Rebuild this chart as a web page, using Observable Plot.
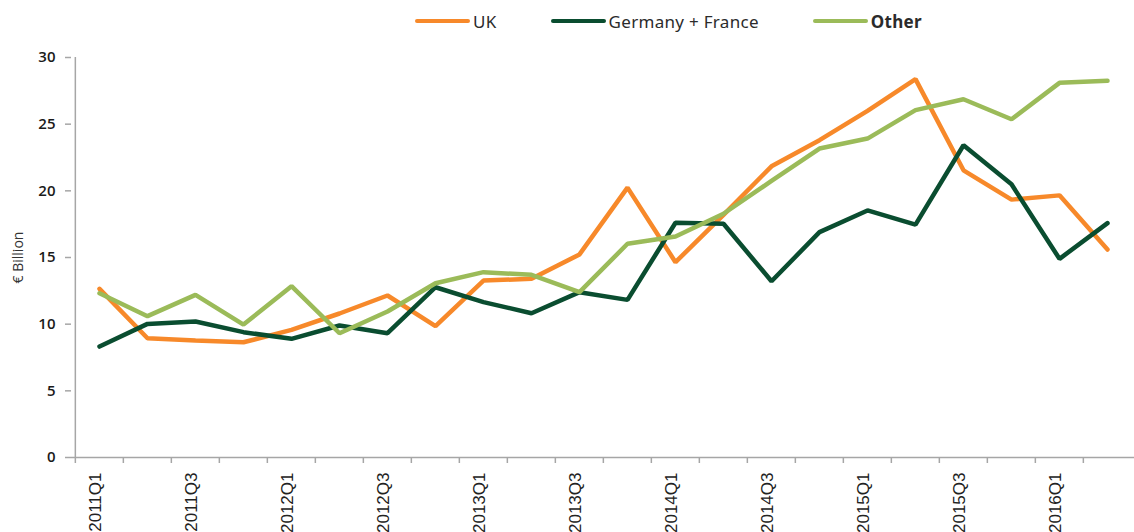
<!DOCTYPE html>
<html>
<head>
<meta charset="utf-8">
<script src="https://cdn.jsdelivr.net/npm/d3@7"></script>
<script src="https://cdn.jsdelivr.net/npm/@observablehq/plot@0.6"></script>
<style>
  html, body { margin: 0; padding: 0; background: #fff; }
  #wrap { position: relative; width: 1134px; height: 532px; overflow: hidden; }
  #legend { position: absolute; left: 415px; top: 8px; height: 26px; display: flex; align-items: center;
            font-family: "Noto Sans", "DejaVu Sans", sans-serif; font-size: 17px; color: #2b2b2b; letter-spacing: 0.3px; }
  .item { display: flex; align-items: center; margin-right: 54px; }
  .sw { width: 55px; height: 4.5px; border-radius: 3px; margin-right: 3px; }
  #chart { position: absolute; left: 0; top: 38px; }
</style>
</head>
<body>
<div id="wrap">
  <div id="legend"></div>
  <div id="chart"></div>
</div>
<script>
const quarters = ["2011Q1","2011Q2","2011Q3","2011Q4","2012Q1","2012Q2","2012Q3","2012Q4",
  "2013Q1","2013Q2","2013Q3","2013Q4","2014Q1","2014Q2","2014Q3","2014Q4",
  "2015Q1","2015Q2","2015Q3","2015Q4","2016Q1","2016Q2"];
const uk = [12.65, 8.94, 8.77, 8.64, 9.57, 10.8, 12.15, 9.85, 13.27, 13.4, 15.23, 20.24,
  14.65, 18.2, 21.84, 23.8, 26.0, 28.38, 21.54, 19.34, 19.66, 15.6];
const germanyFrance = [8.32, 10.02, 10.2, 9.4, 8.9, 9.9, 9.32, 12.77, 11.65, 10.82, 12.4, 11.82,
  17.61, 17.53, 13.22, 16.9, 18.53, 17.46, 23.42, 20.49, 14.9, 17.58];
const other = [12.32, 10.6, 12.2, 9.97, 12.85, 9.32, 10.95, 13.07, 13.9, 13.7, 12.4, 16.03,
  16.58, 18.28, 20.74, 23.17, 23.92, 26.05, 26.87, 25.37, 28.1, 28.25];
const seriesNames = ["UK", "Germany + France", "Other"];
const seriesColors = ["#F7892A", "#0A4D30", "#9BBB59"];
const xTickLabels = ["2011Q1","2011Q3","2012Q1","2012Q3","2013Q1","2013Q3","2014Q1","2014Q3","2015Q1","2015Q3","2016Q1"];
const yTicks = [0, 5, 10, 15, 20, 25, 30];
const yLabel = "€ Billion";

const seriesValues = [uk, germanyFrance, other];
const rows = [];
seriesNames.forEach((s, k) => quarters.forEach((q, i) => rows.push({q, v: seriesValues[k][i], s})));

const W = 1134, H = 494, mL = 71, mR = 0;
const step = (W - mL - mR) / quarters.length;
const axisGray = "#a6a6a6";

const chart = Plot.plot({
  width: W, height: H,
  marginLeft: mL, marginRight: mR, marginTop: 19, marginBottom: 75,
  style: {fontFamily: "Arial, 'Liberation Sans', sans-serif", color: "#222", background: "#fff"},
  x: {type: "point", domain: quarters, padding: 0.5},
  y: {domain: [0, 30]},
  color: {domain: seriesNames, range: seriesColors},
  marks: [
    Plot.ruleY([0], {stroke: axisGray, strokeWidth: 1.5}),
    Plot.ruleX([quarters[0]], {dx: -step / 2, stroke: axisGray, strokeWidth: 1.5}),
    Plot.axisY({ticks: yTicks, tickSize: 6, tickPadding: 10, stroke: axisGray, strokeWidth: 1.5,
      fontSize: 15, fontFamily: "'Open Sans', sans-serif", fontWeight: 600, fill: "#1a1a1a",
      label: null}),
    Plot.axisY({ticks: [], tickSize: 0, label: yLabel, labelAnchor: "center", labelOffset: 58, labelArrow: "none",
      fontSize: 14, fontFamily: "'Open Sans', sans-serif", fill: "#333"}),
    Plot.axisX({ticks: quarters, tickFormat: () => "", tickSize: 6, stroke: axisGray, strokeWidth: 1.5, dx: -step / 2, label: null}),
    Plot.axisX({ticks: xTickLabels, tickSize: 0, tickPadding: 15, tickRotate: -90, dx: -4, fontSize: 17, fill: "#222", label: null}),
    Plot.line(rows, {x: "q", y: "v", z: "s", stroke: "s", strokeWidth: 4.5, strokeLinejoin: "miter", strokeLinecap: "round"})
  ]
});
document.getElementById("chart").appendChild(chart);

const legend = document.getElementById("legend");
seriesNames.forEach((s, k) => {
  const it = document.createElement("div");
  it.className = "item";
  const sw = document.createElement("div");
  sw.className = "sw";
  sw.style.background = seriesColors[k];
  const t = document.createElement("span");
  t.textContent = s;
  if (s === "Other") t.style.fontWeight = "bold";
  it.appendChild(sw); it.appendChild(t);
  legend.appendChild(it);
});
</script>
</body>
</html>
